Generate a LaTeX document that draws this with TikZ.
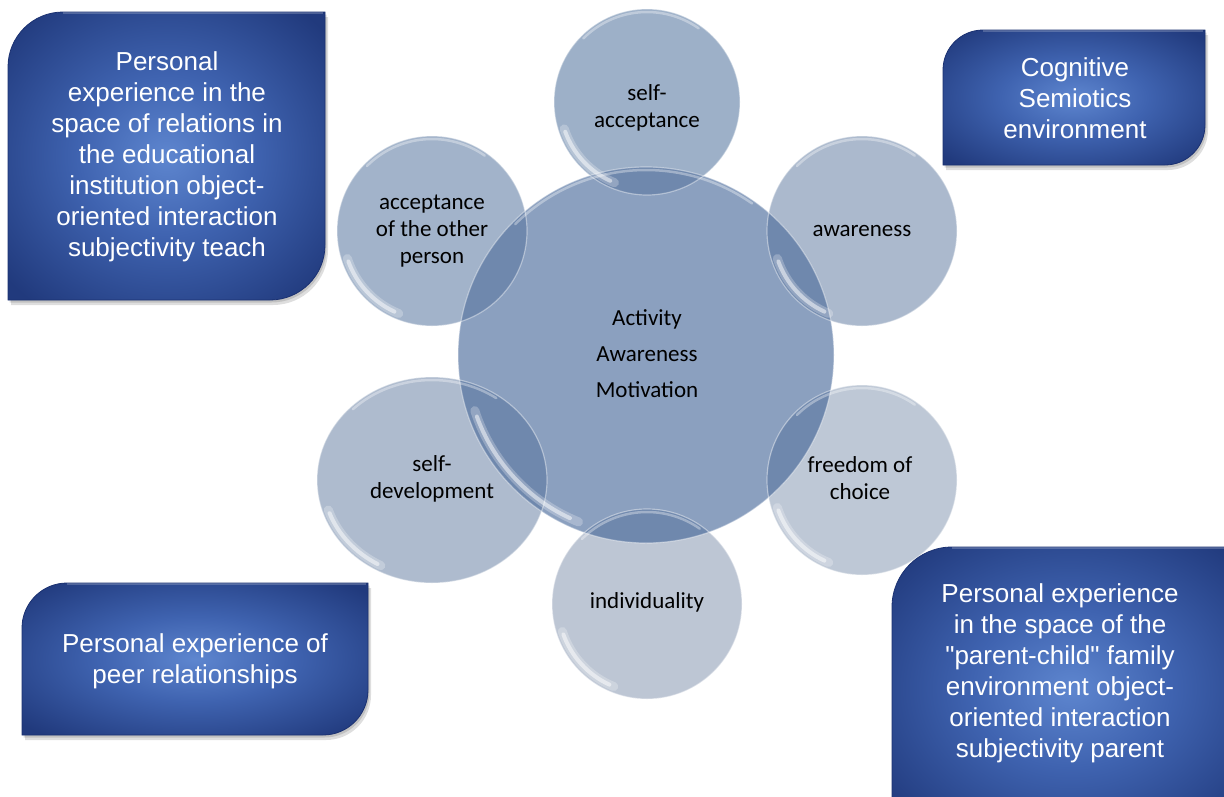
\documentclass[tikz,border=0pt]{standalone}
\usepackage{fontspec}
\setmainfont{Liberation Sans}
\newfontfamily\circfont{Carlito}

\definecolor{boxin}{HTML}{5E86CF}
\definecolor{boxmid}{HTML}{3F63B0}
\definecolor{boxout}{HTML}{213A7D}
\definecolor{boxedge}{HTML}{1B3171}
\definecolor{hubfill}{HTML}{8BA0BF}
\definecolor{overlapfill}{HTML}{6F88AD}
\definecolor{satA}{HTML}{9DB0C8}
\definecolor{satB}{HTML}{A2B3CA}
\definecolor{satC}{HTML}{ABB9CD}
\definecolor{satD}{HTML}{AEBBCE}
\definecolor{satE}{HTML}{BEC8D6}
\definecolor{satF}{HTML}{BDC6D4}

\pgfdeclareradialshading{leafglow}{\pgfpoint{0bp}{0bp}}{%
  color(0bp)=(boxin); color(14bp)=(boxmid); color(33bp)=(boxout); color(50bp)=(boxout)}

\tikzset{
  boxtext/.style={text=white, align=center, font=\fontsize{26}{31}\selectfont, inner sep=0pt},
  circtext/.style={text=black, align=center, font=\circfont\fontsize{23}{27}\selectfont, inner sep=0pt},
  hubtext/.style={text=black, align=center, font=\circfont\fontsize{23}{36}\selectfont, inner sep=0pt},
  rimline/.style={white, opacity=0.4, line width=1.2},
  glosswide/.style={white, opacity=0.25, line width=9, line cap=round},
  gloss/.style={white, opacity=0.5, line width=4, line cap=round},
  glosstop/.style={white, opacity=0.35, line width=2.5, line cap=round},
  leafshadow/.style={black, opacity=0.13},
  leaffill/.style={shading=leafglow, draw=boxedge, line width=0.8},
}

% leaf-shaped box: left x, top y, right x, bottom y, corner radius
\newcommand\leafbox[5]{%
  \fill[leafshadow, shift={(3,-5)}] (#1,#4) -- (#1,#2-#5)
     arc[start angle=180, end angle=90, radius=#5] -- (#3,#2) -- (#3,#4+#5)
     arc[start angle=0, end angle=-90, radius=#5] -- cycle;
  \fill[leafshadow, shift={(1.5,-2.5)}] (#1,#4) -- (#1,#2-#5)
     arc[start angle=180, end angle=90, radius=#5] -- (#3,#2) -- (#3,#4+#5)
     arc[start angle=0, end angle=-90, radius=#5] -- cycle;
  \shade[leaffill] (#1,#4) -- (#1,#2-#5)
     arc[start angle=180, end angle=90, radius=#5] -- (#3,#2) -- (#3,#4+#5)
     arc[start angle=0, end angle=-90, radius=#5] -- cycle;
  \draw[white, opacity=0.2, line width=1.2] (#1+#5,#2-1) -- (#3-2,#2-1);
}

% glossy rim of a disk: centre, radius, inner gloss radius, top gloss radius
\newcommand\glossrim[4]{%
  \draw[rimline] (#1) circle (#2);
  \draw[glosswide] ([shift={(198:#3)}]#1) arc[start angle=198, end angle=248, radius=#3];
  \draw[gloss] ([shift={(200:#3)}]#1) arc[start angle=200, end angle=245, radius=#3];
  \draw[glosstop] ([shift={(55:#4)}]#1) arc[start angle=55, end angle=135, radius=#4];
}

\begin{document}
\begin{tikzpicture}[x=1pt, y=1pt]
\useasboundingbox (0,0) rectangle (1224,-796);
\clip (0,0) rectangle (1224,-796);
\fill[white] (0,0) rectangle (1224,-796);

% centres of the disks
\coordinate (hub)  at (646,-355);
\coordinate (sacc) at (647,-102);
\coordinate (accp) at (432,-231);
\coordinate (awar) at (862,-231);
\coordinate (free) at (862,-480);
\coordinate (indv) at (647,-604);
\coordinate (sdev) at (432,-480);

% central disk and the six satellites
\fill[hubfill] (hub) circle (188);
\fill[satA] (sacc) circle (93);
\fill[satB] (accp) circle (95);
\fill[satC] (awar) circle (95);
\fill[satE] (free) circle (95);
\fill[satF] (indv) circle (95);
\fill[satD] (sdev) ellipse [x radius=115, y radius=103];

% darker lens where each satellite meets the centre
\begin{scope}\clip (sacc) circle (93); \fill[overlapfill] (hub) circle (188); \end{scope}
\begin{scope}\clip (accp) circle (95); \fill[overlapfill] (hub) circle (188); \end{scope}
\begin{scope}\clip (awar) circle (95); \fill[overlapfill] (hub) circle (188); \end{scope}
\begin{scope}\clip (free) circle (95); \fill[overlapfill] (hub) circle (188); \end{scope}
\begin{scope}\clip (indv) circle (95); \fill[overlapfill] (hub) circle (188); \end{scope}
\begin{scope}\clip (sdev) ellipse [x radius=115, y radius=103]; \fill[overlapfill] (hub) circle (188); \end{scope}

% glass rims
\glossrim{hub}{188}{180}{185}
\glossrim{sacc}{93}{87}{90}
\glossrim{accp}{95}{89}{92}
\glossrim{awar}{95}{89}{92}
\glossrim{free}{95}{89}{92}
\glossrim{indv}{95}{89}{92}
\draw[rimline] (sdev) ellipse [x radius=115, y radius=103];
\draw[glosswide] ([shift={(198:109 and 97)}]sdev) arc[start angle=198, end angle=242, x radius=109, y radius=97];
\draw[gloss] ([shift={(200:109 and 97)}]sdev) arc[start angle=200, end angle=240, x radius=109, y radius=97];
\draw[glosstop] ([shift={(55:112 and 100)}]sdev) arc[start angle=55, end angle=135, x radius=112, y radius=100];

% labels inside the disks
\node[hubtext]  (hubl)  at (647,-354) {Activity\\Awareness\\Motivation};
\node[circtext] (saccl) at (647,-108) {self-\\acceptance};
\node[circtext] (accpl) at (432,-231) {acceptance\\of the other\\person};
\node[circtext] (awarl) at (862,-231) {awareness};
\node[circtext] (freel) at (860,-478) {freedom of\\choice};
\node[circtext] (indvl) at (647,-602) {individuality};
\node[circtext] (sdevl) at (432,-479) {self-\\development};

% corner boxes
\leafbox{8}{-12}{325}{-300}{55}
\leafbox{943}{-30}{1205}{-165}{40}
\leafbox{22}{-583}{368}{-735}{45}
\leafbox{892}{-547}{1250}{-830}{60}

\node[boxtext] (school) at (167,-157) {Personal\\experience in the\\space of relations in\\the educational\\institution object-\\oriented interaction\\subjectivity teach};
\node[boxtext] (semio)  at (1075,-98) {Cognitive\\Semiotics\\environment};
\node[boxtext] (peers)  at (195,-661) {Personal experience of\\peer relationships};
\node[boxtext] (family) at (1060,-673) {Personal experience\\in the space of the\\\textquotedbl parent-child\textquotedbl{} family\\environment object-\\oriented interaction\\subjectivity parent};
\end{tikzpicture}
\end{document}
